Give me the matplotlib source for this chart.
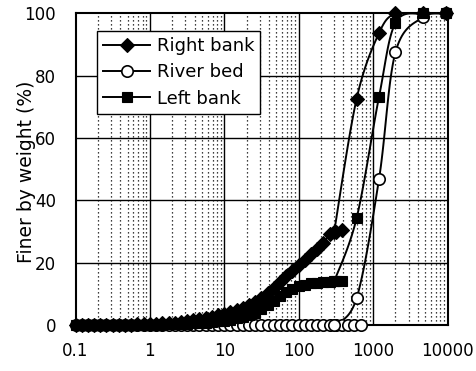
import numpy as np
import matplotlib
matplotlib.use("Agg")
import matplotlib.pyplot as plt
from matplotlib.lines import Line2D

plt.rcParams['font.family'] = ['DejaVu Sans']

# Laser-diffraction size bins (micrometres)
laser_size = [0.100, 0.121, 0.147, 0.178, 0.215, 0.261, 0.316, 0.383, 0.464, 0.562,
              0.681, 0.825, 1.00, 1.21, 1.47, 1.78, 2.15, 2.61, 3.16, 3.83,
              4.64, 5.62, 6.81, 8.25, 10.0, 12.1, 14.7, 17.8, 21.5, 26.1,
              31.6, 38.3, 46.4, 56.2, 68.1, 82.5, 100, 121, 147, 178,
              215, 261, 316, 383, 464, 562, 681]

# Cumulative percent finer, laser part
right_bank_fine = [0, 0, 0, 0, 0, 0, 0, 0.1, 0.1, 0.1,
                   0.2, 0.2, 0.3, 0.4, 0.5, 0.7, 0.8, 1.0, 1.3, 1.6,
                   1.9, 2.2, 2.6, 3.1, 3.6, 4.1, 4.8, 5.5, 6.3, 7.4,
                   8.7, 10.3, 12.0, 13.8, 15.6, 17.4, 19.2, 21.0, 22.7, 24.5,
                   26.3, 29.1, 29.8, 30.6]
river_bed_fine = [0] * 47
left_bank_fine = [0, 0, 0, 0, 0, 0, 0, 0, 0, 0,
                  0, 0, 0.1, 0.1, 0.1, 0.2, 0.2, 0.3, 0.4, 0.5,
                  0.6, 0.8, 1.0, 1.2, 1.4, 1.7, 2.1, 2.6, 3.2, 4.0,
                  5.0, 6.5, 7.8, 9.2, 10.5, 11.6, 12.4, 13.0, 13.4, 13.6,
                  13.8, 13.9, 14.0, 14.1]

# Sieve analysis part
sieve_size = [300, 600, 1200, 2000, 4750, 9500]
right_bank_sieve = [30.0, 72.6, 93.7, 100, 100, 100]
river_bed_sieve = [0, 8.6, 46.8, 87.6, 98.9, 100]
left_bank_sieve = [14.0, 34.3, 73.2, 97.0, 100, 100]

series_names = ["Right bank", "River bed", "Left bank"]
x_ticks = [0.1, 1, 10, 100, 1000, 10000]
x_tick_labels = ["0.1", "1", "10", "100", "1000", "10000"]
y_ticks = [0, 20, 40, 60, 80, 100]

W, H = 476, 371
fig = plt.figure(figsize=(W / 100, H / 100), dpi=100)
ax = fig.add_axes([75.5 / W, 1 - 325 / H, 372 / W, 311.5 / H])
ax.set_xscale("log")
ax.set_xlim(0.1, 10000)
ax.set_ylim(0, 100)

# grid: solid at decades / every 20 %, dotted at intermediate sizes
for d in [1, 10, 100, 1000]:
    ax.axvline(d, color="black", lw=1.0, zorder=1)
for y in [20, 40, 60, 80]:
    ax.axhline(y, color="black", lw=1.0, zorder=1)
for dec in [0.1, 1, 10, 100, 1000]:
    for m in range(2, 10):
        ax.axvline(dec * m, color="black", lw=0.9, ls=(0, (1, 2.2)), zorder=1)

for s in ax.spines.values():
    s.set_linewidth(1.5)
    s.set_zorder(2)

ax.set_xticks(x_ticks)
ax.set_xticklabels(x_tick_labels)
ax.set_xticks([], minor=True)
ax.set_yticks(y_ticks)
ax.tick_params(length=0, labelsize=12, colors="black")
ax.tick_params(axis="x", pad=12)
ax.tick_params(axis="y", pad=14)

fig.text(27 / W, 1 - 172 / H, "Finer by weight (%)", rotation=90,
         ha="center", va="center", fontsize=13.5)


def smooth(xs, ys, n=20):
    """Catmull-Rom curve through the points, built in display space."""
    pts = ax.transData.transform(np.column_stack([xs, ys]))
    if len(pts) < 3:
        return np.asarray(xs), np.asarray(ys)
    ext = np.vstack([pts[0], pts, pts[-1]])
    out = []
    t = np.linspace(0, 1, n, endpoint=False)[:, None]
    for i in range(1, len(ext) - 2):
        p0, p1, p2, p3 = ext[i - 1], ext[i], ext[i + 1], ext[i + 2]
        c1 = p1 + (p2 - p0) / 6
        c2 = p2 - (p3 - p1) / 6
        b = ((1 - t) ** 3) * p1 + 3 * ((1 - t) ** 2) * t * c1 \
            + 3 * (1 - t) * t ** 2 * c2 + t ** 3 * p2
        out.append(b)
    out.append(pts[-1][None, :])
    out = np.vstack(out)
    data = ax.transData.inverted().transform(out)
    return data[:, 0], data[:, 1]


styles = {
    "Right bank": dict(marker="D", ms=7.6, mfc="black", mec="black", mew=0.8),
    "River bed": dict(marker="o", ms=8.2, mfc="white", mec="black", mew=1.2),
    "Left bank": dict(marker="s", ms=7.4, mfc="black", mec="black", mew=0.8),
}
data = {
    "Right bank": (right_bank_fine, right_bank_sieve),
    "River bed": (river_bed_fine, river_bed_sieve),
    "Left bank": (left_bank_fine, left_bank_sieve),
}

handles = []
z = 3
for name in series_names:
    fine, sieve = data[name]
    fx = laser_size[:len(fine)]
    st = styles[name]
    for xs, ys in [(fx, fine), (sieve_size, sieve)]:
        sx, sy = smooth(xs, ys)
        ax.plot(sx, sy, color="black", lw=1.4, zorder=z)
        ax.plot(xs, ys, ls="none", zorder=z + 0.5, clip_on=False, **st)
    z += 1
    handles.append(Line2D([], [], color="black", lw=1.4, **st))

leg = ax.legend(handles, series_names, loc="upper left",
                bbox_to_anchor=(0.058, 0.944), fontsize=13,
                frameon=True, fancybox=False, edgecolor="black",
                framealpha=1, borderpad=0.35, labelspacing=0.45,
                handlelength=2.6, handletextpad=0.35, borderaxespad=0)
leg.get_frame().set_linewidth(1.0)
leg.set_zorder(10)

fig.savefig("out.png", dpi=100)
